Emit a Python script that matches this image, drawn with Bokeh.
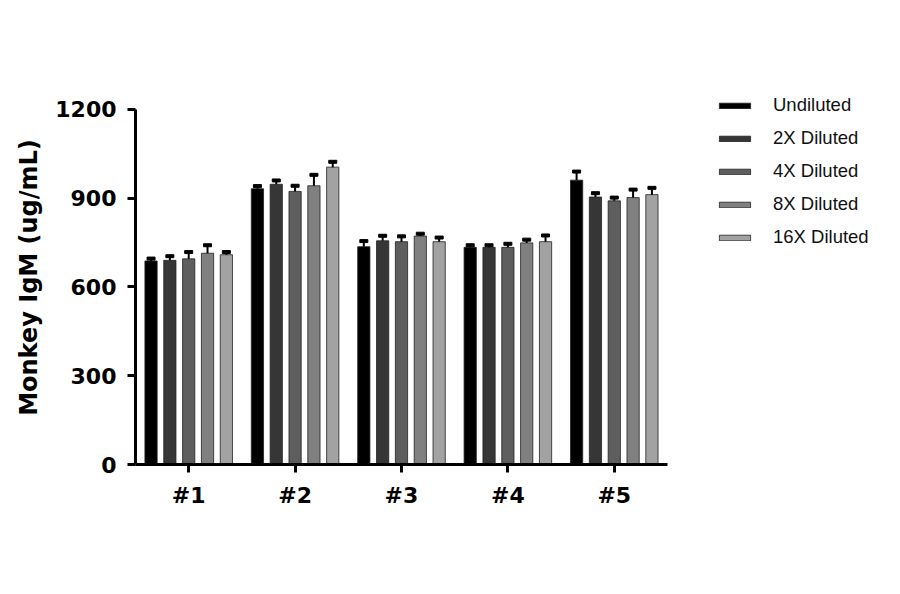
from bokeh.plotting import figure
from bokeh.models import ColumnDataSource, Range1d, FixedTicker, Legend, LegendItem
from bokeh.embed import file_html
from bokeh.resources import INLINE

groups = ["#1", "#2", "#3", "#4", "#5"]
series = ["Undiluted", "2X Diluted", "4X Diluted", "8X Diluted", "16X Diluted"]

undiluted = [688, 932, 736, 734, 961]
undiluted_sd = [8, 9, 19, 7, 29]
dil_2x = [690, 947, 756, 734, 904]
dil_2x_sd = [14, 13, 17, 7, 13]
dil_4x = [695, 923, 753, 734, 891]
dil_4x_sd = [23, 19, 18, 12, 11]
dil_8x = [714, 942, 772, 749, 902]
dil_8x_sd = [27, 37, 8, 11, 27]
dil_16x = [709, 1005, 753, 753, 912]
dil_16x_sd = [9, 18, 14, 21, 23]

y_ticks = [0, 300, 600, 900, 1200]

values = [undiluted, dil_2x, dil_4x, dil_8x, dil_16x]
errors = [undiluted_sd, dil_2x_sd, dil_4x_sd, dil_8x_sd, dil_16x_sd]
colors = ["#000000", "#363636", "#5e5e5e", "#808080", "#a2a2a2"]
offsets = [-0.354, -0.177, 0.0, 0.177, 0.354]

# group centres on a numeric axis, labelled with the group names
centres = [i + 0.5 for i in range(len(groups))]

# frame is wider/taller than the axes so the legend is not clipped
p = figure(x_range=Range1d(0, 7.04), y_range=Range1d(0, 1264),
           width=884, height=578, output_backend="svg", toolbar_location=None,
           min_border_left=135, min_border_right=0, min_border_top=90, min_border_bottom=114)

items = []
for name, vals, errs, col, off in zip(series, values, errors, colors, offsets):
    src = ColumnDataSource(dict(x=[c + off for c in centres], top=vals,
                                hi=[v + e for v, e in zip(vals, errs)]))
    r = p.vbar(x="x", top="top", bottom=0, width=0.115, source=src,
               fill_color=col, line_color="#222222", line_width=0.8)
    p.segment(x0="x", y0="top", x1="x", y1="hi", source=src, line_color="black", line_width=2)
    p.rect(x="x", y="hi", width=8, height=3, width_units="screen", height_units="screen",
           source=src, fill_color="black", line_color="black")
    items.append(LegendItem(label=name, renderers=[r]))

legend = Legend(items=items, location=(580, 216), glyph_width=39, glyph_height=7,
                label_height=20, spacing=11, label_standoff=19, padding=0, margin=0,
                border_line_color=None, background_fill_alpha=0,
                label_text_font="Liberation Sans", label_text_font_size="18.5px",
                label_text_color="#111111")
p.add_layout(legend)

p.xgrid.visible = False
p.ygrid.visible = False
p.outline_line_color = None

for ax in (p.xaxis, p.yaxis):
    ax.axis_line_width = 3
    ax.axis_line_color = "black"
    ax.major_tick_line_width = 3
    ax.major_tick_line_color = "black"
    ax.major_tick_out = 8
    ax.major_tick_in = 0
    ax.minor_tick_line_color = None
    ax.major_label_text_font = "DejaVu Sans"
    ax.major_label_text_font_style = "bold"
    ax.major_label_text_font_size = "22px"
    ax.major_label_text_color = "black"

p.xaxis.bounds = (0, len(groups))
p.xaxis.ticker = FixedTicker(ticks=centres)
p.xaxis.major_label_overrides = {c: g for c, g in zip(centres, groups)}
p.xaxis.major_label_standoff = 10

p.yaxis.bounds = (0, 1200)
p.yaxis.ticker = FixedTicker(ticks=y_ticks)
p.yaxis.major_label_standoff = 11
p.yaxis.axis_label = "Monkey IgM (ug/mL)"
p.yaxis.axis_label_text_font = "DejaVu Sans"
p.yaxis.axis_label_text_font_style = "bold"
p.yaxis.axis_label_text_font_size = "24px"
p.yaxis.axis_label_text_color = "black"
p.yaxis.axis_label_standoff = 9

open("out.html", "w").write(file_html(p, INLINE))
